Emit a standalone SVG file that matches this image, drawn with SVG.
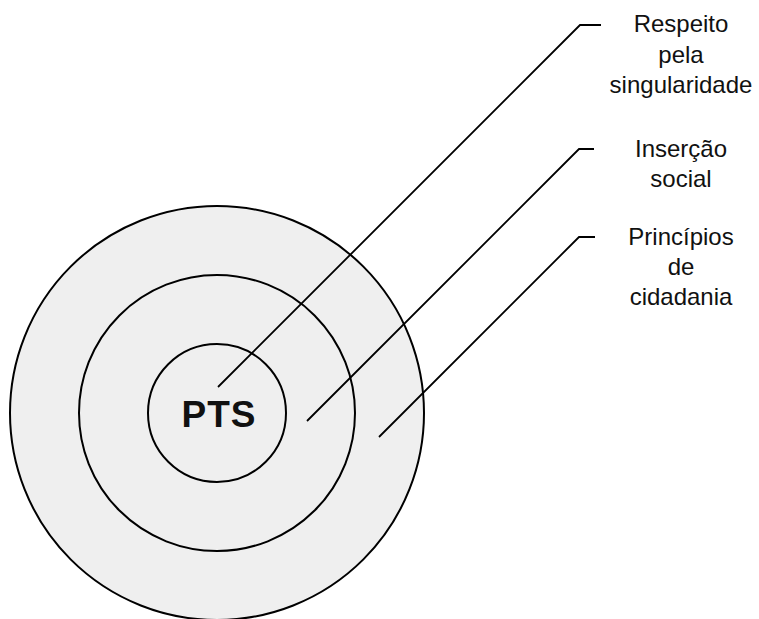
<svg xmlns="http://www.w3.org/2000/svg" width="759" height="619" viewBox="0 0 759 619">
  <style>
    .ring { fill: #efefef; stroke: #000; stroke-width: 2; }
    .lead { fill: none; stroke: #000; stroke-width: 1.8; }
    .label { font-family: "Liberation Sans", Arial, sans-serif; font-size: 24px; fill: #111; text-anchor: middle; }
    .core { font-family: "Liberation Sans", Arial, sans-serif; font-size: 37px; font-weight: bold; fill: #111; text-anchor: middle; letter-spacing: 1px; }
  </style>
  <rect width="759" height="619" fill="#fff"/>
  <g id="outer-ring"><circle class="ring" cx="217" cy="413" r="207"/></g>
  <g id="middle-ring"><circle class="ring" cx="217" cy="413" r="138"/></g>
  <g id="pts"><circle class="ring" cx="217" cy="413" r="69"/><text class="core" x="219" y="427">PTS</text></g>
  <g id="connectors">
    <polyline class="lead" points="218,387 580,25 601,25"/>
    <polyline class="lead" points="307,421 579,149 594,149"/>
    <polyline class="lead" points="379,437 579,237 595,237"/>
  </g>
  <g id="singularidade">
    <text class="label" x="681" y="32">Respeito</text>
    <text class="label" x="681" y="63">pela</text>
    <text class="label" x="681" y="93">singularidade</text>
  </g>
  <g id="insercao">
    <text class="label" x="681" y="157">Inserção</text>
    <text class="label" x="681" y="187">social</text>
  </g>
  <g id="cidadania">
    <text class="label" x="681" y="245">Princípios</text>
    <text class="label" x="681" y="275">de</text>
    <text class="label" x="681" y="305">cidadania</text>
  </g>
</svg>
